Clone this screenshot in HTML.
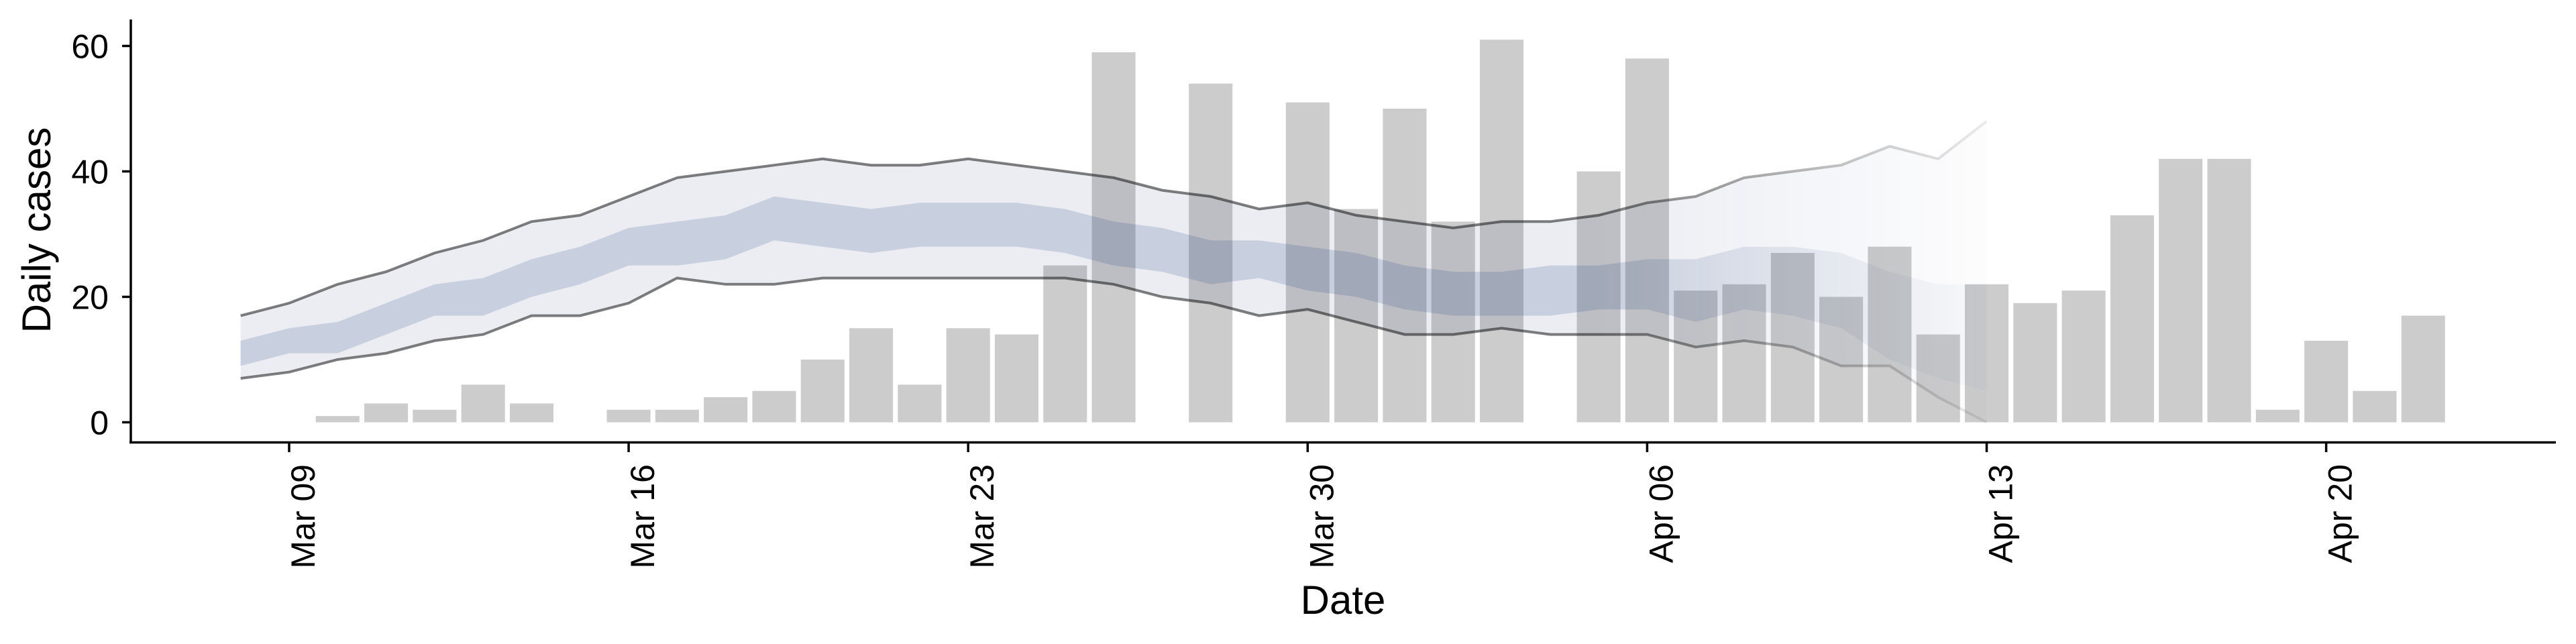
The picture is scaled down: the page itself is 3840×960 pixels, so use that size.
<!DOCTYPE html>
<html><head><meta charset="utf-8"><style>
html,body{margin:0;padding:0;background:#fff;}
svg{display:block;font-family:"Liberation Sans",Arial,sans-serif;}
</style></head><body>
<svg id="chart" width="3840" height="960" viewBox="0 0 3840 960" xmlns="http://www.w3.org/2000/svg">
<defs>
<linearGradient id="fadeGrad" gradientUnits="userSpaceOnUse" x1="2380" y1="0" x2="2961" y2="0">
<stop offset="0" stop-color="#fff" stop-opacity="1"/>
<stop offset="1" stop-color="#fff" stop-opacity="0.15"/>
</linearGradient>
<mask id="fadeMask" maskUnits="userSpaceOnUse" x="0" y="0" width="3840" height="960">
<rect x="0" y="0" width="2380" height="960" fill="#fff"/>
<rect x="2380" y="0" width="1460" height="960" fill="url(#fadeGrad)"/>
</mask>
</defs>
<g id="bars"></g>
<g id="bands" mask="url(#fadeMask)"></g>
<g id="axes"></g>
</svg>
<script>
// bar data: days offset from Mar 09
const barDays = [1,2,3,4,5,6,7,8,9,10,11,12,13,14,15,16,17,18,19,20,21,22,23,24,25,26,27,28,29,30,31,32,33,34,35,36,37,38,39,40,41,42,43,44];
const barValues = [1,3,2,6,3,0,2,2,4,5,10,15,6,15,14,25,59,0,54,0,51,34,50,32,61,0,40,58,21,22,27,20,28,14,22,19,21,33,42,42,2,13,5,17];
// band data: days offset from Mar 09, starting Mar 08
const bandDays = [-1,0,1,2,3,4,5,6,7,8,9,10,11,12,13,14,15,16,17,18,19,20,21,22,23,24,25,26,27,28,29,30,31,32,33,34,35];
const outerUpper = [17,19,22,24,27,29,32,33,36,39,40,41,42,41,41,42,41,40,39,37,36,34,35,33,32,31,32,32,33,35,36,39,40,41,44,42,48];
const outerLower = [7,8,10,11,13,14,17,17,19,23,22,22,23,23,23,23,23,23,22,20,19,17,18,16,14,14,15,14,14,14,12,13,12,9,9,4,0];
const innerUpper = [13,15,16,19,22,23,26,28,31,32,33,36,35,34,35,35,35,34,32,31,29,29,28,27,25,24,24,25,25,26,26,28,28,27,24,22,22];
const innerLower = [9,11,11,14,17,17,20,22,25,25,26,29,28,27,28,28,28,27,25,24,22,23,21,20,18,17,17,17,18,18,16,18,17,15,10,7,5];
const yTicks = [0,20,40,60];
const xTickDays = [0,7,14,21,28,35,42];
const xTickLabels = ["Mar 09","Mar 16","Mar 23","Mar 30","Apr 06","Apr 13","Apr 20"];

const NS = "http://www.w3.org/2000/svg";
const X0 = 431, DAY = 72.3, Y0 = 629.5, UNIT = 9.35;
function x(d){ return X0 + d*DAY; }
function y(v){ return Y0 - v*UNIT; }
function mk(tag, attrs, parent){
  const e = document.createElementNS(NS, tag);
  for (const k in attrs) e.setAttribute(k, attrs[k]);
  parent.appendChild(e);
  return e;
}

const gBars = document.getElementById('bars');
barDays.forEach((d,i)=>{
  if (barValues[i] <= 0) return;
  const w = DAY*0.9;
  const r = mk('rect',{x:x(d)-w/2, y:y(barValues[i]), width:w, height:barValues[i]*UNIT, fill:'#cccccc'}, gBars);
  
  
});

const gBands = document.getElementById('bands');
function areaPath(up, lo){
  let p = '';
  bandDays.forEach((d,i)=>{ p += (i?'L':'M') + x(d).toFixed(1) + ',' + y(up[i]).toFixed(1); });
  for (let i = bandDays.length-1; i >= 0; i--) p += 'L' + x(bandDays[i]).toFixed(1) + ',' + y(lo[i]).toFixed(1);
  return p + 'Z';
}
function linePath(arr){
  let p = '';
  bandDays.forEach((d,i)=>{ p += (i?'L':'M') + x(d).toFixed(1) + ',' + y(arr[i]).toFixed(1); });
  return p;
}
const outer = mk('path',{d:areaPath(outerUpper, outerLower), fill:'rgb(31,59,118)', 'fill-opacity':0.09}, gBands);


const inner = mk('path',{d:areaPath(innerUpper, innerLower), fill:'rgb(31,59,118)', 'fill-opacity':0.17}, gBands);


const lu = mk('path',{d:linePath(outerUpper), fill:'none', stroke:'rgba(0,0,0,0.5)', 'stroke-width':4}, gBands);


const ll = mk('path',{d:linePath(outerLower), fill:'none', stroke:'rgba(0,0,0,0.5)', 'stroke-width':4}, gBands);



const gAx = document.getElementById('axes');
const ya = mk('line',{x1:195, y1:29, x2:195, y2:661, stroke:'#000', 'stroke-width':3.5}, gAx);


const xa = mk('line',{x1:193, y1:659.5, x2:3810, y2:659.5, stroke:'#000', 'stroke-width':3.5}, gAx);


yTicks.forEach(v=>{
  const t = mk('line',{x1:182, y1:y(v), x2:195, y2:y(v), stroke:'#000', 'stroke-width':3.5}, gAx);
  
  
  const l = mk('text',{x:162, y:y(v)+18, 'text-anchor':'end', 'font-size':50, fill:'#000'}, gAx);
  l.textContent = v;
  
  
});
xTickDays.forEach((d,i)=>{
  const t = mk('line',{x1:x(d), y1:659.5, x2:x(d), y2:674, stroke:'#000', 'stroke-width':3.5}, gAx);
  
  
  const bx = x(d) + 38, by = 692;
  const l = mk('text',{x:bx, y:by, 'text-anchor':'end', 'font-size':50, fill:'#000', transform:'rotate(-90 ' + bx + ' ' + by + ')'}, gAx);
  l.textContent = xTickLabels[i];
  
  
});
const yt = mk('text',{x:75, y:343, 'text-anchor':'middle', 'font-size':60, fill:'#000', transform:'rotate(-90 75 343)'}, gAx);
yt.textContent = 'Daily cases';


const xt = mk('text',{x:2002, y:915, 'text-anchor':'middle', 'font-size':60, fill:'#000'}, gAx);
xt.textContent = 'Date';


</script>
</body></html>
